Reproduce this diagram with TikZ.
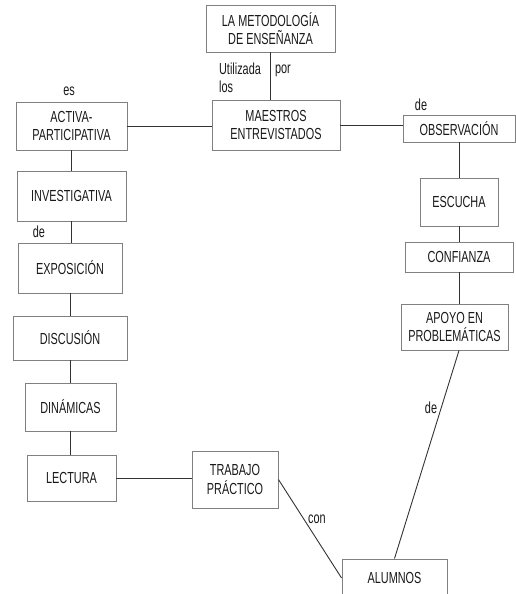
\documentclass[tikz,border=0pt]{standalone}
\usepackage{fontspec}
\setmainfont{Liberation Sans}[FakeStretch=0.68]
\usetikzlibrary{positioning}
\begin{document}
\begin{tikzpicture}[x=1pt, y=-1pt, line width=.9pt,
	concepto/.style={draw=black!50, inner sep=0pt, align=center, text=black!90, font=\fontsize{16}{18.5}\selectfont},
	enlace/.style={inner sep=0pt, align=left, text=black!90, font=\fontsize{16}{18.5}\selectfont},
	linea/.style={draw=black!80}]
	\clip (0,0) rectangle (516,594);
	\node[concepto, minimum width=129, minimum height=47] (metodo)    at (270.5,28.5) {LA METODOLOGÍA\\DE ENSEÑANZA};
	\node[concepto, minimum width=128, minimum height=50] (maestros)  at (276,125)    {MAESTROS\\ENTREVISTADOS};
	\node[concepto, minimum width=111, minimum height=48] (activa)    at (71.5,126)   {ACTIVA-\\PARTICIPATIVA};
	\node[concepto, minimum width=109, minimum height=50] (invest)    at (71.5,196)   {INVESTIGATIVA};
	\node[concepto, minimum width=104, minimum height=50] (expos)     at (70,268)     {EXPOSICIÓN};
	\node[concepto, minimum width=114, minimum height=44] (discu)     at (70,338)     {DISCUSIÓN};
	\node[concepto, minimum width=91,  minimum height=48] (dinam)     at (70.5,407)   {DINÁMICAS};
	\node[concepto, minimum width=89,  minimum height=46] (lectura)   at (71.5,478)   {LECTURA};
	\node[concepto, minimum width=86,  minimum height=57] (trabajo)   at (235,479.5)  {TRABAJO\\PRÁCTICO};
	\node[concepto, minimum width=105, minimum height=38] (alumnos)   at (394.5,578)  {ALUMNOS};
	\node[concepto, minimum width=112, minimum height=27] (observ)    at (459,128.5)  {OBSERVACIÓN};
	\node[concepto, minimum width=78,  minimum height=48] (escucha)   at (459,202)    {ESCUCHA};
	\node[concepto, minimum width=108, minimum height=30] (confianza) at (459,257)    {CONFIANZA};
	\node[concepto, minimum width=107, minimum height=46] (apoyo)     at (454.5,327)  {APOYO EN\\PROBLEMÁTICAS};
	% palabras de enlace
	\node[enlace] (utilizada) at (240,78)  {Utilizada\\los};
	\node[enlace] (por)       at (283,71)  {por};
	\node[enlace] (es)        at (69,91)   {es};
	\node[enlace] (deA)       at (39,232)  {de};
	\node[enlace] (deB)       at (421,105) {de};
	\node[enlace] (deC)       at (431,408) {de};
	\node[enlace] (con)       at (317,519) {con};
	% lineas
	\draw[linea] (metodo.south) -- (metodo.south |- maestros.north);
	\draw[linea] (activa.east) -- (activa.east -| maestros.west);
	\draw[linea] (maestros.east) -- (maestros.east -| observ.west);
	\draw[linea] (activa.south) -- (activa.south |- invest.north);
	\draw[linea] (invest.south) -- (invest.south |- expos.north);
	\draw[linea] (expos.south) -- (expos.south |- discu.north);
	\draw[linea] (discu.south) -- (discu.south |- dinam.north);
	\draw[linea] (dinam.south) -- (dinam.south |- lectura.north);
	\draw[linea] (lectura.east) -- (lectura.east -| trabajo.west);
	\draw[linea] (trabajo.east) -- (alumnos.west);
	\draw[linea] (observ.south) -- (observ.south |- escucha.north);
	\draw[linea] (escucha.south) -- (escucha.south |- confianza.north);
	\draw[linea] (confianza.south) -- (confianza.south |- apoyo.north);
	\draw[linea] ([xshift=4.5pt]apoyo.south) -- (alumnos.north);
\end{tikzpicture}
\end{document}
